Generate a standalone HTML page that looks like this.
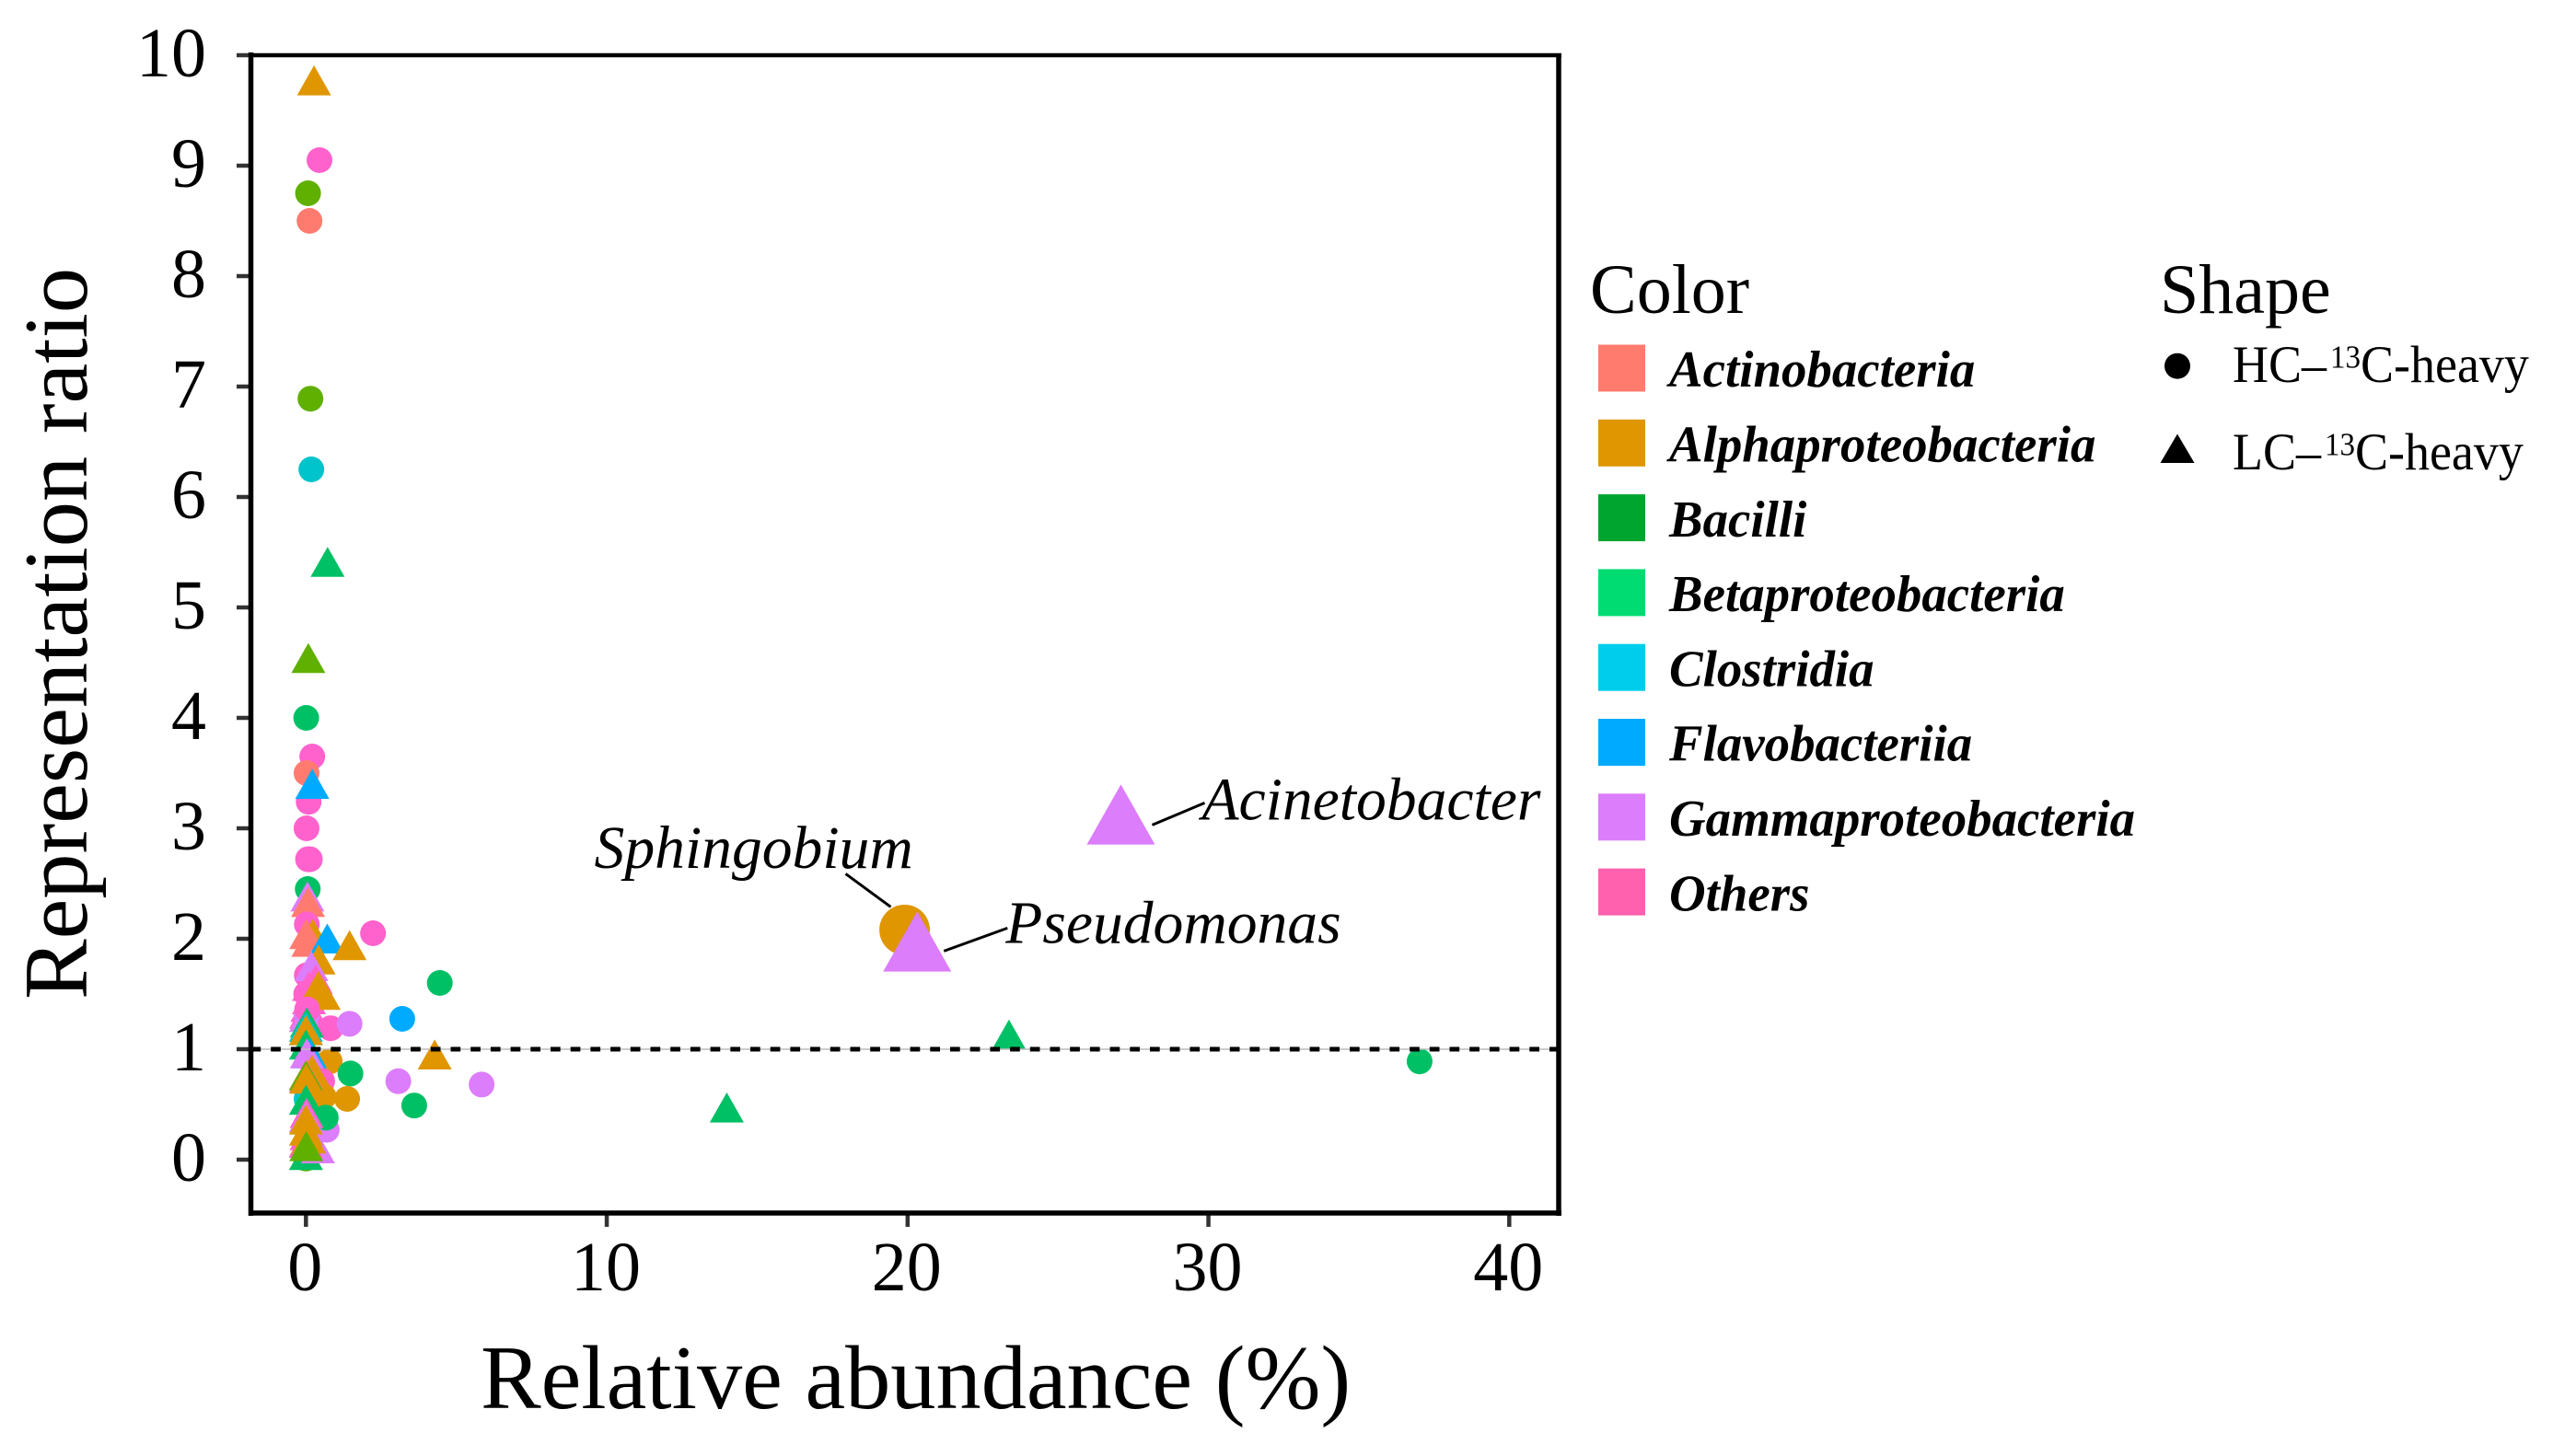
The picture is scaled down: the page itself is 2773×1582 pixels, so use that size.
<!DOCTYPE html>
<html lang="en">
<head>
<meta charset="utf-8">
<title>Representation ratio vs relative abundance</title>
<style>
html,body{margin:0;padding:0;background:#fff;}
svg{display:block;}
text{font-family:"Liberation Serif","Times New Roman",serif;fill:#000;}
.tick{font-size:76px;}
.title{font-size:98.4px;}
.ltitle{font-size:76px;}
.ltext{font-size:56px;font-weight:bold;font-style:italic;}
.stext{font-size:54px;}
.anno{font-size:65.6px;font-style:italic;}
</style>
</head>
<body>
<svg id="chart" xmlns="http://www.w3.org/2000/svg" width="2773" height="1582" viewBox="0 0 2773 1582">
  <rect x="0" y="0" width="2773" height="1582" fill="#fff"/>
  <g id="ticks"></g>
  <g id="points"></g>
  <g id="refline"></g>
  <g id="frame"></g>
  <g id="highlights"></g>

  <text class="title" transform="translate(94,1086) rotate(-90)">Representation ratio</text>
  <text class="title" x="522" y="1530">Relative abundance (%)</text>

  <g>
    <text class="ltitle" x="1727" y="340">Color</text>
    <rect x="1736" y="374.5" width="51" height="51" fill="#FF7B6E"/>
    <rect x="1736" y="455.8" width="51" height="51" fill="#DF9600"/>
    <rect x="1736" y="537.1" width="51" height="51" fill="#00A530"/>
    <rect x="1736" y="618.4" width="51" height="51" fill="#00DC72"/>
    <rect x="1736" y="699.7" width="51" height="51" fill="#00CDEC"/>
    <rect x="1736" y="781" width="51" height="51" fill="#00ABFF"/>
    <rect x="1736" y="862.3" width="51" height="51" fill="#DC7DFB"/>
    <rect x="1736" y="943.6" width="51" height="51" fill="#FF61AE"/>
    <text class="ltext" transform="translate(1813,420.2) scale(0.98,1)">Actinobacteria</text>
    <text class="ltext" transform="translate(1813,501.5) scale(0.98,1)">Alphaproteobacteria</text>
    <text class="ltext" transform="translate(1813,582.8) scale(0.98,1)">Bacilli</text>
    <text class="ltext" transform="translate(1813,664.1) scale(0.98,1)">Betaproteobacteria</text>
    <text class="ltext" transform="translate(1813,745.4) scale(0.98,1)">Clostridia</text>
    <text class="ltext" transform="translate(1813,826.7) scale(0.98,1)">Flavobacteriia</text>
    <text class="ltext" transform="translate(1813,908) scale(0.98,1)">Gammaproteobacteria</text>
    <text class="ltext" transform="translate(1813,989.3) scale(0.98,1)">Others</text>
  </g>

  <g>
    <text class="ltitle" x="2346" y="340">Shape</text>
    <circle cx="2365" cy="397.7" r="14" fill="#000"/>
    <polygon points="2365,471.5 2383.5,503 2346.5,503" fill="#000"/>
    <text class="stext" transform="translate(2425,415) scale(1,1.05)">HC–<tspan font-size="33" dx="4" dy="-15">13</tspan><tspan dy="15">C-heavy</tspan></text>
    <text class="stext" transform="translate(2425,510) scale(1,1.05)">LC–<tspan font-size="33" dx="4" dy="-15">13</tspan><tspan dy="15">C-heavy</tspan></text>
  </g>
</svg>

<script>
// ---- chart data ----
const classColors = ['#FF7B70', '#DF9600', '#5FB000', '#00C066', '#00C4CC', '#00ABFF', '#DC7DFB', '#FF62CC'];
const xTickLabels = [0, 10, 20, 30, 40];
const yTickLabels = [0, 1, 2, 3, 4, 5, 6, 7, 8, 9, 10];
const referenceRatio = 1;

// class index into classColors; shape 0 = circle (HC), 1 = triangle (LC). Back-to-front order.
const pointClass = [
  1,7,2,0,2,4,3,2,3,7,0,7,5,7,7,7,3,6,0,7,1,0,0,5,1,7,1,7,6,
  6,7,7,7,7,7,7,7,7,7,1,1,
  3,6,6,7,5,7,6,3,4,5,1,
  3,1,5,6,3,7,6,1,3,6,1,4,1,1,0,7,2,1,
  6,3,3,3,3,3,7,6,0,7,1,2,3,6,7,1,1,2
];
const pointShape = [
  1,0,0,0,0,0,1,1,0,0,0,0,1,0,0,0,0,1,1,0,1,1,1,1,1,0,1,0,1,
  1,1,1,0,1,1,0,1,1,1,1,1,
  0,1,0,0,0,0,0,1,1,1,1,
  1,0,1,1,0,0,0,0,0,0,1,0,0,1,1,1,1,1,
  0,0,1,1,1,0,1,1,1,1,1,0,1,1,1,1,1,1
];
const pointAbundance = [
  0.27,0.45,0.07,0.12,0.15,0.18,0.72,0.08,0.01,0.21,0.02,0.09,0.21,0.02,0.07,0.13,0.06,0.05,0.07,0.03,0.23,0.01,0.08,0.71,1.45,2.23,0.42,0.03,0.18,
  0.28,0.33,0.10,0.03,0.20,0.10,0.01,0.05,0.01,0.08,0.41,0.59,
  4.45,0.00,0.02,0.82,3.20,0.04,1.45,0.03,0.00,0.00,0.00,
  0.00,0.79,0.13,0.03,1.48,0.54,3.07,1.37,3.60,5.84,4.28,0.02,0.59,0.20,0.01,0.00,0.00,0.01,
  0.69,0.66,13.99,23.37,0.00,37.02,0.02,0.00,0.00,0.02,0.00,0.00,0.00,0.40,0.00,0.00,0.10,0.01
];
const pointRatio = [
  9.75,9.05,8.75,8.50,6.89,6.25,5.39,4.52,4.00,3.65,3.50,3.24,3.38,3.00,2.72,2.72,2.45,2.36,2.31,2.13,2.02,2.02,1.95,1.98,1.92,2.05,1.79,1.67,1.73,
  1.64,1.61,1.55,1.50,1.48,1.43,1.50,1.36,1.30,1.28,1.55,1.47,
  1.60,1.27,1.30,1.19,1.275,1.36,1.23,1.22,1.18,1.15,1.15,
  1.02,0.89,0.94,0.94,0.78,0.71,0.71,0.55,0.49,0.68,0.93,0.55,0.57,0.79,0.75,0.72,0.74,0.71,
  0.27,0.38,0.45,1.11,0.52,0.89,0.40,0.36,0.14,0.20,0.34,0.01,0.02,0.08,0.13,0.24,0.17,0.10
];

// labelled genera drawn with doubled marks
const highlightNames = ['Sphingobium', 'Acinetobacter', 'Pseudomonas'];
const highlightClass = [1, 6, 6];
const highlightShape = [0, 1, 1];
const highlightAbundance = [19.90, 27.09, 20.32];
const highlightRatio = [2.08, 3.08, 1.93];

// ---- axis functions ----
const X0 = 332.3, XPER = 32.675, Y0 = 1260, YPER = 120;
const LEFT = 272.5, RIGHT = 1693, TOP = 60, BOTTOM = 1318;
function xScale(v) { return X0 + XPER * v; }
function yScale(v) { return Y0 - YPER * v; }

const NS = 'http://www.w3.org/2000/svg';
function make(tag, attrs, parent) {
  const el = document.createElementNS(NS, tag);
  for (const k in attrs) el.setAttribute(k, attrs[k]);
  parent.appendChild(el);
  return el;
}

function drawMark(parent, cls, shape, xv, yv, scale, name) {
  const cx = xScale(xv), cy = yScale(yv);
  let el;
  if (shape === 0) {
    el = make('circle', { cx: cx, cy: cy, r: 14 * scale, fill: classColors[cls] }, parent);
  } else {
    const pts = [[cx, cy - 19 * scale], [cx + 18.5 * scale, cy + 13.6 * scale], [cx - 18.5 * scale, cy + 13.6 * scale]];
    el = make('polygon', { points: pts.map(p => p.join(',')).join(' '), fill: classColors[cls] }, parent);
  }
  
  
  return el;
}

// ticks and tick labels
const ticksG = document.getElementById('ticks');
yTickLabels.forEach(function (t) {
  const ln = make('line', { x1: 257, x2: 272, y1: yScale(t), y2: yScale(t), stroke: '#333', 'stroke-width': 4.5 }, ticksG);
  
  
  const tx = make('text', { class: 'tick', x: 224, y: yScale(t) + 23, 'text-anchor': 'end' }, ticksG);
  tx.textContent = t;
  
  
});
xTickLabels.forEach(function (t) {
  const ln = make('line', { x1: xScale(t), x2: xScale(t), y1: BOTTOM, y2: 1333, stroke: '#333', 'stroke-width': 4.5 }, ticksG);
  
  
  const tx = make('text', { class: 'tick', x: xScale(t) - 1, y: 1402, 'text-anchor': 'middle' }, ticksG);
  tx.textContent = t;
  
  
});

// points
const pointsG = document.getElementById('points');
pointRatio.forEach(function (r, i) {
  drawMark(pointsG, pointClass[i], pointShape[i], pointAbundance[i], r, 1, 'data-point');
});

// reference line
const refG = document.getElementById('refline');
const refThin = make('line', { x1: LEFT, x2: RIGHT, y1: yScale(referenceRatio), y2: yScale(referenceRatio), stroke: '#bbb', 'stroke-width': 1.5 }, refG);


const refDash = make('line', { x1: LEFT, x2: RIGHT, y1: yScale(referenceRatio), y2: yScale(referenceRatio), stroke: '#000', 'stroke-width': 5, 'stroke-dasharray': '10.7 11' }, refG);



// frame
const frameG = document.getElementById('frame');
const frameSides = [
  ['frame-left', LEFT, TOP - 3, LEFT, BOTTOM + 3, 5.5],
  ['frame-bottom', LEFT, BOTTOM, RIGHT + 3, BOTTOM, 5.5],
  ['frame-top', LEFT, TOP, RIGHT + 3, TOP, 4.5],
  ['frame-right', RIGHT, TOP, RIGHT, BOTTOM + 3, 5.5]
];
frameSides.forEach(function (s) {
  const ln = make('line', { x1: s[1], y1: s[2], x2: s[3], y2: s[4], stroke: '#000', 'stroke-width': s[5] }, frameG);
  
  
});

// highlighted genera: label and leader offsets relative to each mark
const highlightsG = document.getElementById('highlights');
const labelOffsets = [[-337, -67.5], [88, 0], [96, -4]];
const leaderOffsets = [[-64, -61, -15, -25], [91, -18, 34, 6], [98, -20, 29, 5]];
highlightNames.forEach(function (name, i) {
  const cx = xScale(highlightAbundance[i]), cy = yScale(highlightRatio[i]);
  const ln = make('line', {
    x1: cx + leaderOffsets[i][0], y1: cy + leaderOffsets[i][1],
    x2: cx + leaderOffsets[i][2], y2: cy + leaderOffsets[i][3],
    stroke: '#000', 'stroke-width': 3
  }, highlightsG);
  
  
  drawMark(highlightsG, highlightClass[i], highlightShape[i], highlightAbundance[i], highlightRatio[i], i === 0 ? 1.96 : 2, 'highlighted-point');
  const tx = make('text', { class: 'anno', x: cx + labelOffsets[i][0], y: cy + labelOffsets[i][1] }, highlightsG);
  tx.textContent = name;
  
  
});
</script>
</body>
</html>
